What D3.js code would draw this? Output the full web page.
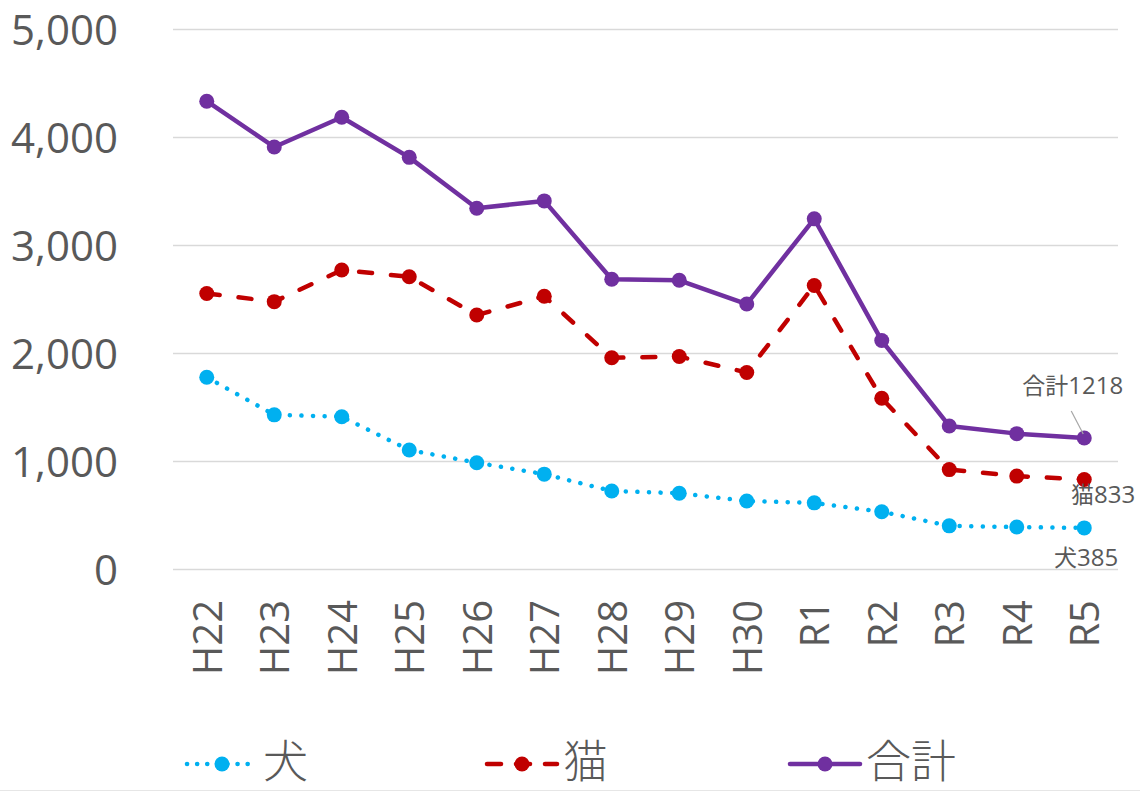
<!DOCTYPE html>
<html>
<head>
<meta charset="utf-8">
<script src="https://cdn.jsdelivr.net/npm/d3@7"></script>
<style>
  body { margin: 0; background: #fff; }
  svg text { fill: #595959; }
</style>
</head>
<body>
<div id="chart"></div>
<script>
// Data
const years = ['H22', 'H23', 'H24', 'H25', 'H26', 'H27', 'H28', 'H29', 'H30', 'R1', 'R2', 'R3', 'R4', 'R5'];
const dogs = [1780, 1432, 1415, 1106, 989, 883, 727, 706, 634, 617, 535, 404, 393, 385];
const cats = [2556, 2480, 2773, 2710, 2356, 2530, 1960, 1972, 1824, 2630, 1585, 925, 865, 833];
const totals = [4336, 3912, 4188, 3816, 3345, 3413, 2687, 2678, 2458, 3247, 2120, 1329, 1258, 1218];
const yTicks = [0, 1000, 2000, 3000, 4000, 5000];

const W = 1140, H = 791;
const numFont = '"Segoe UI", "Open Sans", "Noto Sans", sans-serif';
const jpFont = '"Noto Sans CJK JP", "Noto Sans", sans-serif';

const series = [
  { name: '犬', values: dogs, color: '#00B0F0', dash: '0.1,11.5', lastLabel: { dx: 34, dy: 38 } },
  { name: '猫', values: cats, color: '#C00000', dash: '13,19', lastLabel: { dx: 51, dy: 23 } },
  { name: '合計', values: totals, color: '#7030A0', dash: null, lastLabel: { dx: 39, dy: -44 } }
];

const x = d3.scalePoint().domain(years).range([173, 1118]).padding(0.5);
const y = d3.scaleLinear().domain([0, 5000]).range([569.5, 29.5]);

const svg = d3.select('#chart').append('svg')
  .attr('width', W)
  .attr('height', H);

// Gridlines
svg.append('g')
  .selectAll('line')
  .data(yTicks)
  .join('line')
  .attr('x1', 173).attr('x2', 1118)
  .attr('y1', d => y(d)).attr('y2', d => y(d))
  .attr('stroke', '#d9d9d9')
  .attr('stroke-width', 1.5);

// Y axis labels
const yAxis = svg.append('g')
  .attr('transform', 'translate(118,0)')
  .call(d3.axisLeft(y).tickValues(yTicks).tickSize(0).tickPadding(0).tickFormat(d3.format(',')));
yAxis.select('.domain').remove();
yAxis.selectAll('text')
  .attr('font-family', numFont)
  .attr('font-size', 42)
  .attr('dy', '0.36em')
  .style('fill', '#595959');

// X axis labels (rotated)
const xAxis = svg.append('g')
  .attr('transform', 'translate(0,600)')
  .call(d3.axisBottom(x).tickSize(0).tickPadding(0));
xAxis.select('.domain').remove();
xAxis.selectAll('text')
  .attr('font-family', numFont)
  .attr('font-size', 40)
  .attr('transform', 'rotate(-90)')
  .attr('text-anchor', 'end')
  .attr('x', 0)
  .attr('y', 0)
  .attr('dy', '0.36em')
  .style('fill', '#595959');

// Lines and markers
const line = d3.line()
  .x((d, i) => x(years[i]))
  .y(d => y(d));

series.forEach(s => {
  svg.append('path')
    .datum(s.values)
    .attr('fill', 'none')
    .attr('stroke', s.color)
    .attr('stroke-width', 4.5)
    .attr('stroke-linejoin', 'round')
    .attr('stroke-linecap', 'round')
    .attr('stroke-dasharray', s.dash)
    .attr('d', line);

  svg.append('g')
    .selectAll('circle')
    .data(s.values)
    .join('circle')
    .attr('cx', (d, i) => x(years[i]))
    .attr('cy', d => y(d))
    .attr('r', 7.5)
    .attr('fill', s.color);
});

// Labels on the last point
const last = years.length - 1;
series.forEach(s => {
  const px = x(years[last]), py = y(s.values[last]);
  svg.append('text')
    .attr('x', px + s.lastLabel.dx)
    .attr('y', py + s.lastLabel.dy)
    .attr('text-anchor', 'end')
    .attr('font-size', 23)
    .style('fill', '#595959')
    .call(t => {
      t.append('tspan').attr('font-family', jpFont).text(s.name);
      t.append('tspan').attr('font-family', numFont).attr('font-size', 24).text(s.values[last]);
    });
});

// Leader line for 合計 label
{
  const px = x(years[last]), py = y(totals[last]);
  svg.append('line')
    .attr('x1', px - 13).attr('y1', py - 27)
    .attr('x2', px - 1).attr('y2', py - 4)
    .attr('stroke', '#a6a6a6')
    .attr('stroke-width', 1.2);
}

// Legend
const legendItems = [
  { s: series[0], x: 185, dash: '0.1,10' },
  { s: series[1], x: 485, dash: '14,15' },
  { s: series[2], x: 788, dash: null }
];
const legend = svg.append('g').attr('transform', 'translate(0,764)');
legendItems.forEach(li => {
  const g = legend.append('g').attr('transform', `translate(${li.x},0)`);
  g.append('line')
    .attr('x1', 2).attr('x2', 72)
    .attr('y1', 0).attr('y2', 0)
    .attr('stroke', li.s.color)
    .attr('stroke-width', 4.5)
    .attr('stroke-linecap', 'round')
    .attr('stroke-dasharray', li.dash);
  g.append('circle')
    .attr('cx', 37).attr('cy', 0).attr('r', 7.5)
    .attr('fill', li.s.color);
  g.append('text')
    .attr('x', 78)
    .attr('y', -2)
    .attr('dy', '0.36em')
    .attr('font-family', jpFont)
    .attr('font-weight', 300)
    .attr('font-size', 45)
    .style('fill', '#595959')
    .text(li.s.name);
});

// Faint bottom border of the chart area
svg.append('line')
  .attr('x1', 0).attr('x2', W)
  .attr('y1', H - 0.5).attr('y2', H - 0.5)
  .attr('stroke', '#e6e6e6')
  .attr('stroke-width', 1);
</script>
</body>
</html>
